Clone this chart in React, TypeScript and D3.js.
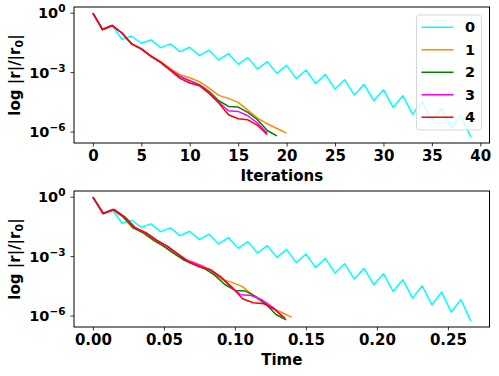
import React, { useRef, useEffect } from 'react';
import * as d3 from 'd3';

// log10 of |r|/|r0| per iteration
const res0 = [0, -0.826, -0.624, -1.315, -1.164, -1.518, -1.349, -1.737, -1.551, -1.939,
    -1.72, -2.142, -1.872, -2.361, -2.04, -2.58, -2.243, -2.816, -2.445, -3.035,
    -2.631, -3.305, -2.867, -3.558, -3.086, -3.828, -3.356, -4.132, -3.592, -4.418,
    -3.862, -4.755, -4.165, -5.093, -4.469, -5.43, -4.789, -5.801, -5.16, -6.239];
const res1 = [0, -0.826, -0.624, -1.0, -1.551, -1.804, -2.16, -2.445, -2.799, -3.103,
    -3.255, -3.457, -3.777, -4.148, -4.3, -4.503, -4.89, -5.295, -5.582, -5.818, -6.054];
const res2 = [0, -0.826, -0.624, -1.0, -1.551, -1.804, -2.17, -2.479, -2.85, -3.187,
    -3.406, -3.609, -3.946, -4.418, -4.705, -4.739, -5.008, -5.379, -5.919, -6.189];
const res3 = [0, -0.826, -0.624, -1.0, -1.551, -1.804, -2.17, -2.479, -2.86, -3.2,
    -3.42, -3.63, -3.98, -4.503, -4.924, -4.958, -5.177, -5.548, -6.054];
const res4 = [0, -0.826, -0.624, -1.0, -1.551, -1.804, -2.175, -2.479, -2.884, -3.288,
    -3.524, -3.659, -4.047, -4.536, -5.126, -5.329, -5.379, -5.666, -6.121];

// time per iteration of each run
const timeSteps = [0.00682, 0.0070, 0.00716, 0.00744, 0.00753];

const seriesNames = ['0', '1', '2', '3', '4'];
const colors = ['#00ffff', '#ff8c00', '#008000', '#ff00ff', '#ff0000'];

const iterTicks = [0, 5, 10, 15, 20, 25, 30, 35, 40];
const timeTicks = [0, 0.05, 0.1, 0.15, 0.2, 0.25];
const yTickExps = [0, -3, -6];

const allRes = [res0, res1, res2, res3, res4];

const FONT = 'DejaVu Sans, sans-serif';

const W = 499;
const H = 376;
const left = 74;
const right = 489.5;

const drawPanel = (svg, top, bottom, xOf, xTicks, xFmt, xLabel, legend) => {
    const g = svg.append('g');

    let xs = [];
    allRes.forEach((r, s) => r.forEach((_, i) => xs.push(xOf(s, i))));
    const xMin = d3.min(xs), xMax = d3.max(xs);
    const xPad = (xMax - xMin) * 0.05;
    const xScale = d3.scaleLinear().domain([xMin - xPad, xMax + xPad]).range([left, right]);

    const eMin = d3.min(allRes.map(r => d3.min(r)));
    const eMax = d3.max(allRes.map(r => d3.max(r)));
    const ePad = (eMax - eMin) * 0.05;
    const yScale = d3.scaleLog()
        .domain([Math.pow(10, eMin - ePad), Math.pow(10, eMax + ePad)])
        .range([bottom, top]);

    const clipId = 'clip' + Math.round(top);
    svg.append('defs').append('clipPath').attr('id', clipId)
        .append('rect').attr('x', left).attr('y', top).attr('width', right - left).attr('height', bottom - top);

    const line = d3.line()
        .x(d => xScale(d[0]))
        .y(d => yScale(Math.pow(10, d[1])));

    const lines = g.append('g').attr('clip-path', `url(#${clipId})`);
    allRes.forEach((r, s) => {
        lines.append('path')
            .attr('d', line(r.map((v, i) => [xOf(s, i), v])))
            .attr('fill', 'none')
            .attr('stroke', colors[s])
            .attr('stroke-width', 1.5)
            .attr('stroke-linejoin', 'round');
    });

    // x axis
    const xAxis = d3.axisBottom(xScale).tickValues(xTicks).tickFormat(xFmt).tickSize(3.5).tickPadding(4);
    const xa = g.append('g').attr('transform', `translate(0,${bottom})`).call(xAxis);
    xa.select('.domain').remove();
    xa.selectAll('line').attr('stroke', '#000').attr('stroke-width', 0.8);
    xa.selectAll('text').attr('font-family', FONT).attr('font-weight', 'bold')
        .attr('font-size', 15).attr('fill', '#000');

    // y axis with power labels
    const ya = g.append('g');
    yTickExps.forEach(e => {
        const y = yScale(Math.pow(10, e));
        ya.append('line').attr('x1', left - 3.5).attr('x2', left).attr('y1', y).attr('y2', y)
            .attr('stroke', '#000').attr('stroke-width', 0.8);
        const t = ya.append('text').attr('x', 65.5).attr('y', y + 5).attr('text-anchor', 'end')
            .attr('font-family', FONT).attr('font-weight', 'bold').attr('font-size', 14.5);
        t.append('tspan').text('10');
        t.append('tspan').attr('dy', -6).attr('font-size', 10.5).text(e === 0 ? '0' : '\u2212' + (-e));
    });

    g.append('rect').attr('x', left).attr('y', top).attr('width', right - left).attr('height', bottom - top)
        .attr('fill', 'none').attr('stroke', '#000').attr('stroke-width', 1);

    g.append('text').attr('x', (left + right) / 2).attr('y', bottom + 37.5).attr('text-anchor', 'middle')
        .attr('font-family', FONT).attr('font-weight', 'bold').attr('font-size', 15).text(xLabel);

    const cy = (top + bottom) / 2;
    const yl = g.append('text').attr('transform', `translate(20,${cy}) rotate(-90)`).attr('text-anchor', 'middle')
        .attr('font-family', FONT).attr('font-weight', 'bold').attr('font-size', 15);
    yl.append('tspan').text('log |r|/|r');
    yl.append('tspan').attr('dy', 3).attr('font-size', 11).text('0');
    yl.append('tspan').attr('dy', -3).text('|');

    if (legend) {
        const lg = g.append('g');
        lg.append('rect').attr('x', 416.5).attr('y', 15).attr('width', 65).attr('height', 115)
            .attr('rx', 3).attr('fill', 'rgba(255,255,255,0.8)').attr('stroke', '#d6d6d6').attr('stroke-width', 1);
        seriesNames.forEach((n, s) => {
            const y = 27.3 + s * 22.5;
            lg.append('line').attr('x1', 421.5).attr('x2', 453.5).attr('y1', y).attr('y2', y)
                .attr('stroke', colors[s]).attr('stroke-width', 1.5);
            lg.append('text').attr('x', 465).attr('y', y + 5).attr('font-family', FONT)
                .attr('font-weight', 'bold').attr('font-size', 14.5).text(n);
        });
    }
};

const App = () => {
    const svgRef = useRef();

    useEffect(() => {
        const svg = d3.select(svgRef.current);
        svg.selectAll('*').remove();

        drawPanel(svg, 7, 143, (s, i) => i, iterTicks, d => String(d), 'Iterations', true);
        drawPanel(svg, 191, 327, (s, i) => i * timeSteps[s], timeTicks, d3.format('.2f'), 'Time', false);
    }, []);

    return (
        <div>
            <svg ref={svgRef} width={W} height={H}
                style={{ position: 'absolute', left: 0, top: 0, background: '#fff' }} />
        </div>
    );
};

export default App;
